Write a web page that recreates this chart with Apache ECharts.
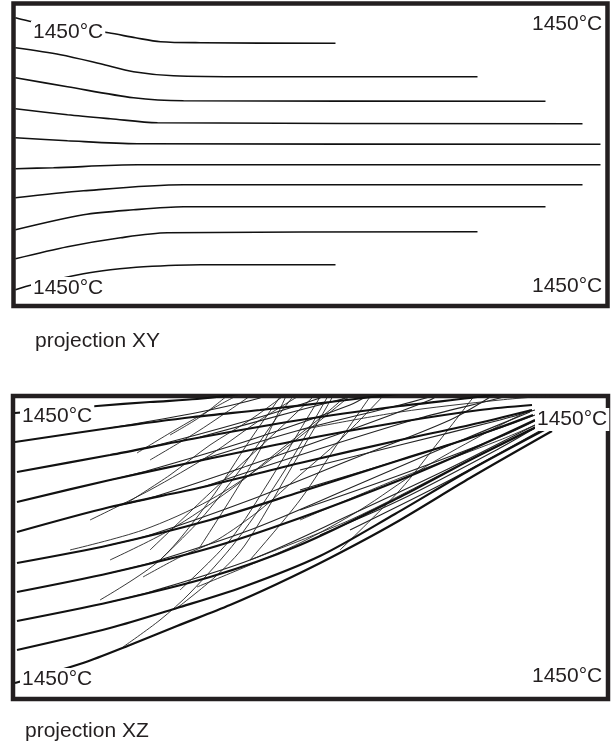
<!DOCTYPE html>
<html>
<head>
<meta charset="utf-8">
<script src="https://cdn.jsdelivr.net/npm/echarts@6/dist/echarts.min.js"></script>
<style>
  html, body { margin: 0; padding: 0; background: #fff; }
  #chart { width: 612px; height: 747px; }
</style>
</head>
<body>
<div id="chart"></div>
<script>
// streamlines, two projections of the same flow field
// XY: x = distance from inlet, y = offset from centre line
const xyLines = [
    [[2,137],[19,133],[47,129],[95,122],[122,117],[147,113],[187,112],[322,111.5]],
    [[2,107],[47,100],[87,91],[120,83],[160,79],[237,78],[464,78]],
    [[2,77],[54,68],[120,57],[170,54],[532,53.5]],
    [[2,46],[54,40],[97,36],[144,32],[569,31]],
    [[2,17],[54,14],[124,11],[587,10.5]],
    [[2,-14],[40,-13],[124,-10],[587,-10]],
    [[2,-43],[70,-36],[170,-30],[569,-30]],
    [[2,-75],[70,-60],[120,-55],[170,-52],[532,-52]],
    [[2,-104],[54,-92],[107,-83],[154,-78],[464,-77]],
    [[2,-135],[19,-130],[70,-119],[97,-115],[130,-112],[187,-110],[322,-110]]
];

// XZ: x = distance from inlet, z = height above floor
// main bundles, one per starting height
const xzBundles = [
    [[2,286],[37,289],[84,293],[137,297],[184,300],[212,303],[230,306]],
    [[2,257],[97,271],[180,282],[247,289],[317,297],[367,303],[387,305]],
    [[4,227],[97,244],[184,261],[287,279],[387,293],[457,301],[487,305]],
    [[4,197],[97,219],[190,239],[287,259],[387,277],[467,289],[519,294]],
    [[4,167],[97,192],[190,212],[287,236],[387,259],[457,274],[519,289]],
    [[4,136],[97,154],[197,179],[287,207],[387,239],[457,261],[520,284]],
    [[4,107],[97,126],[197,151],[287,181],[387,219],[457,249],[522,279]],
    [[4,78],[97,97],[197,122],[287,154],[387,202],[457,239],[527,274]],
    [[4,49],[97,71],[164,91],[230,112],[307,143],[382,185],[457,229],[535,271]],
    [[2,16],[70,36],[117,54],[164,73],[217,94],[264,115],[317,141],[382,176],[457,221],[539,268]]
];

// strands leaving the bundles
const xzStrands = [
    [[97,271],[187,287],[247,301],[252,305]],
    [[97,244],[137,252],[237,279],[307,301],[312,305]],
    [[187,262],[287,289],[337,302],[347,305]],
    [[97,219],[137,229],[237,259],[337,294],[357,305]],
    [[187,239],[287,269],[387,294],[427,305]],
    [[97,192],[137,201],[237,234],[337,269],[417,299],[427,305]],
    [[187,211],[287,244],[407,281],[487,301],[497,305]],
    [[97,154],[137,164],[237,199],[337,239],[437,279],[482,305]],
    [[97,126],[137,136],[237,169],[337,211],[437,254],[517,287]],
    [[97,97],[137,107],[237,139],[337,184],[437,231],[522,274]],
    [[287,229],[387,254],[487,279],[522,289]],
    [[287,209],[387,239],[487,271],[522,284]],
    [[287,189],[387,224],[487,262],[524,279]],
    [[307,164],[387,199],[487,251],[527,274]],
    [[337,169],[437,219],[532,271]]
];

// thin lines crossing the bundles at steeper angles
const xzThin = [
    [[110,52],[147,79],[177,106],[224,159],[272,229],[315,303],[317,307]],
    [[164,91],[202,122],[232,154],[277,229],[320,303],[322,307]],
    [[114,196],[157,224],[197,254],[237,279],[269,302],[272,305]],
    [[137,149],[197,206],[247,252],[300,302],[303,305]],
    [[124,246],[162,269],[197,289],[225,304]],
    [[184,112],[237,134],[287,156],[347,189],[407,229],[467,263],[517,289]],
    [[130,122],[167,142],[204,159],[247,189],[287,224],[327,259],[372,305]],
    [[187,152],[217,199],[247,249],[274,305]],
    [[137,239],[187,269],[240,305]],
    [[157,264],[187,282],[215,304]],
    [[327,149],[387,209],[427,259],[462,304]],
    [[57,149],[130,169],[197,199],[257,239],[337,303]],
    [[237,139],[337,179],[437,229],[527,273]],
    [[287,179],[387,221],[487,259],[527,276]],
    [[287,269],[387,287],[487,299],[547,304]],
    [[87,99],[147,139],[197,199],[237,259],[267,302],[269,305]],
    [[147,139],[187,179],[227,229],[262,279],[282,305]],
    [[167,109],[217,159],[257,219],[287,269],[309,305]],
    [[237,139],[287,199],[327,259],[359,305]],
    [[77,179],[137,209],[197,244],[247,279],[289,305]],
    [[97,139],[157,169],[217,209],[267,249],[317,289],[335,305]]
];

const tempLabel = '1450°C';
const panelNames = ['projection XY', 'projection XZ'];

const ink = '#231f20';
const font = "'Liberation Sans', Arial, sans-serif";

const chart = echarts.init(document.getElementById('chart'));

function lineSeries(data, grid, width, color) {
    return {
        type: 'line', data: data, xAxisIndex: grid, yAxisIndex: grid,
        symbol: 'none', silent: true, animation: false, clip: true,
        smooth: 0.3,
        lineStyle: { color: color, width: width }
    };
}

function tag(text, left, top) {
    return {
        text: text, left: left, top: top, padding: [1, 2],
        backgroundColor: '#fff',
        textStyle: { fontFamily: font, fontSize: 21, fontWeight: 'normal', color: ink }
    };
}

const series = []
    .concat(xyLines.map(d => lineSeries(d, 0, 1.7, '#111')))
    .concat(xzThin.map(d => lineSeries(d, 1, 0.9, '#222')))
    .concat(xzStrands.map(d => lineSeries(d, 1, 1.1, '#222')))
    .concat(xzBundles.map(d => lineSeries(d, 1, 2.2, '#111')));

chart.setOption({
    animation: false,
    title: [
        tag(tempLabel, 31, 21), tag(tempLabel, 530, 13),
        tag(tempLabel, 31, 277), tag(tempLabel, 530, 275),
        tag(tempLabel, 20, 405), tag(tempLabel, 535, 408),
        tag(tempLabel, 20, 668), tag(tempLabel, 530, 665),
        tag(panelNames[0], 33, 330), tag(panelNames[1], 23, 720)
    ],
    grid: [
        { left: 13.5, top: 3.5, width: 594, height: 302.5, show: true,
          borderColor: ink, borderWidth: 4.5, backgroundColor: '#fff' },
        { left: 13, top: 396, width: 595, height: 303, show: true,
          borderColor: ink, borderWidth: 4.5, backgroundColor: '#fff' }
    ],
    xAxis: [
        { type: 'value', gridIndex: 0, min: 0, max: 594, show: false },
        { type: 'value', gridIndex: 1, min: 0, max: 595, show: false }
    ],
    yAxis: [
        { type: 'value', gridIndex: 0, min: -151.25, max: 151.25, show: false },
        { type: 'value', gridIndex: 1, min: 0, max: 303, show: false }
    ],
    series: series
});
</script>
</body>
</html>
